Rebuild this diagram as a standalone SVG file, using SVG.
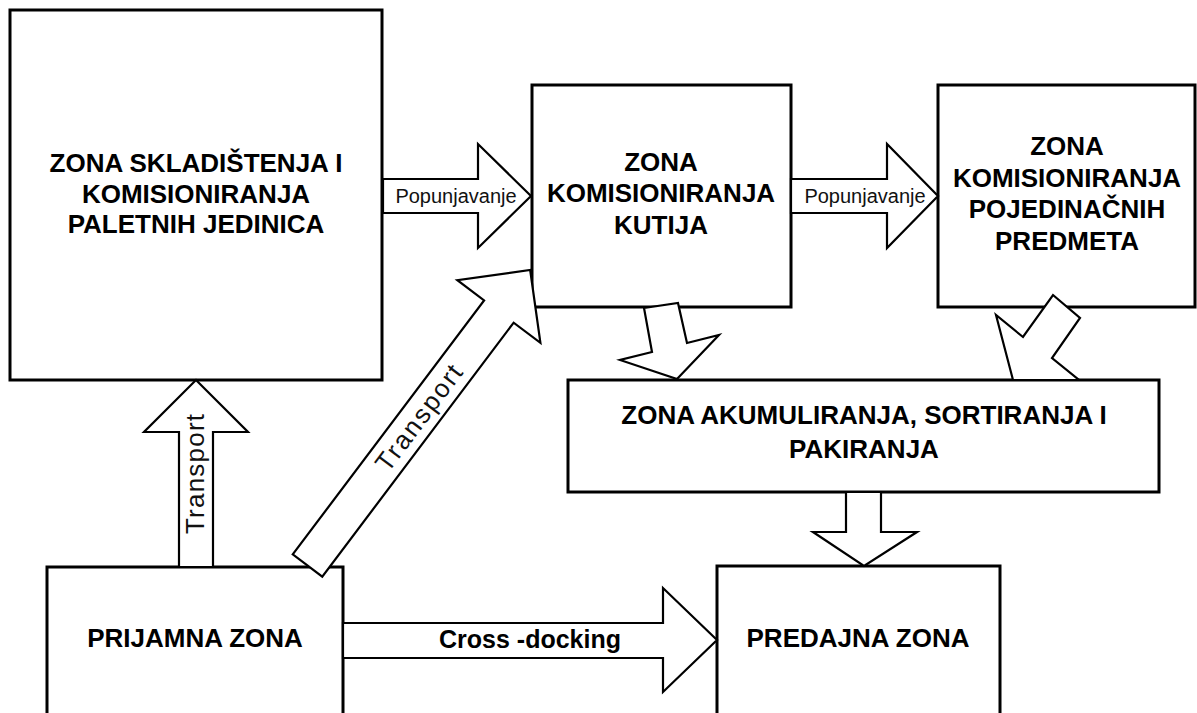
<svg xmlns="http://www.w3.org/2000/svg" width="1197" height="713" viewBox="0 0 1197 713">
<style>
.box{fill:#fff;stroke:#000;stroke-width:3}
.arr{fill:#fff;stroke:#000;stroke-width:2.2;stroke-linejoin:miter}
.t{font-family:"Liberation Sans",Arial,sans-serif;font-weight:bold;font-size:26px;fill:#000;text-anchor:middle}
.l{font-family:"Liberation Sans",Arial,sans-serif;font-size:20px;fill:#111;text-anchor:middle}
.tr{font-family:"Liberation Sans",Arial,sans-serif;font-size:26px;fill:#111;text-anchor:middle}
.lb{font-family:"Liberation Sans",Arial,sans-serif;font-weight:bold;font-size:25px;fill:#000;text-anchor:middle}
</style>
<rect width="1197" height="713" fill="#fff"/>
<g id="n-skladistenje">
<rect class="box" x="10" y="10" width="372" height="370"/>
<text class="t" x="196" y="172">ZONA SKLADIŠTENJA I</text>
<text class="t" x="196" y="203">KOMISIONIRANJA</text>
<text class="t" x="196" y="233">PALETNIH JEDINICA</text>
</g>
<g id="n-kutije">
<rect class="box" x="532" y="85" width="259" height="222"/>
<text class="t" x="661" y="171">ZONA</text>
<text class="t" x="661" y="202">KOMISIONIRANJA</text>
<text class="t" x="661" y="234">KUTIJA</text>
</g>
<g id="n-predmeti">
<rect class="box" x="938" y="85" width="257" height="222"/>
<text class="t" x="1067" y="155">ZONA</text>
<text class="t" x="1067" y="187">KOMISIONIRANJA</text>
<text class="t" x="1067" y="218">POJEDINAČNIH</text>
<text class="t" x="1067" y="250">PREDMETA</text>
</g>
<g id="n-akumuliranje">
<rect class="box" x="568" y="380" width="591" height="112"/>
<text class="t" x="864" y="424">ZONA AKUMULIRANJA, SORTIRANJA I</text>
<text class="t" x="864" y="458">PAKIRANJA</text>
</g>
<g id="n-prijamna">
<rect class="box" x="47" y="567" width="296" height="160"/>
<text class="t" x="195" y="647">PRIJAMNA ZONA</text>
</g>
<g id="n-predajna">
<rect class="box" x="717" y="566" width="283" height="160"/>
<text class="t" x="858" y="647">PREDAJNA ZONA</text>
</g>
<g id="connectors">
<polygon class="arr" points="383,179 478,179 478,144 531,196 478,248 478,213 383,213"/>
<text class="l" x="456" y="203">Popunjavanje</text>
<polygon class="arr" points="791,179 887,179 887,144 938,196 887,248 887,213 791,213"/>
<text class="l" x="865" y="203">Popunjavanje</text>
<polygon class="arr" points="179,567 179,432 144,432 196,380 248,432 213,432 213,567"/>
<text class="tr" transform="translate(204,474) rotate(-90)" x="0" y="0" textLength="120">Transport</text>
<g transform="translate(307.5,565.5) rotate(-53)">
<polygon class="arr" points="0,-18.5 318,-18.5 318,-52 370,0 318,52 318,18.5 0,18.5"/>
<text class="tr" x="185" y="9" textLength="126">Transport</text>
</g>
<polygon class="arr" points="644,308 678,303 687,343 719,335 677,379 620,360 652,352"/>
<polygon class="arr" points="1053,295 1080,318 1052,358 1079,380 1013,380 996,315 1023,337"/>
<polygon class="arr" points="846,492 881,492 881,532 917,532 864,566 813,532 846,532"/>
<polygon class="arr" points="343,623 663,623 663,588 717,640 663,692 663,658 343,658"/>
<text class="lb" x="530" y="648">Cross -docking</text>
</g>
</svg>
